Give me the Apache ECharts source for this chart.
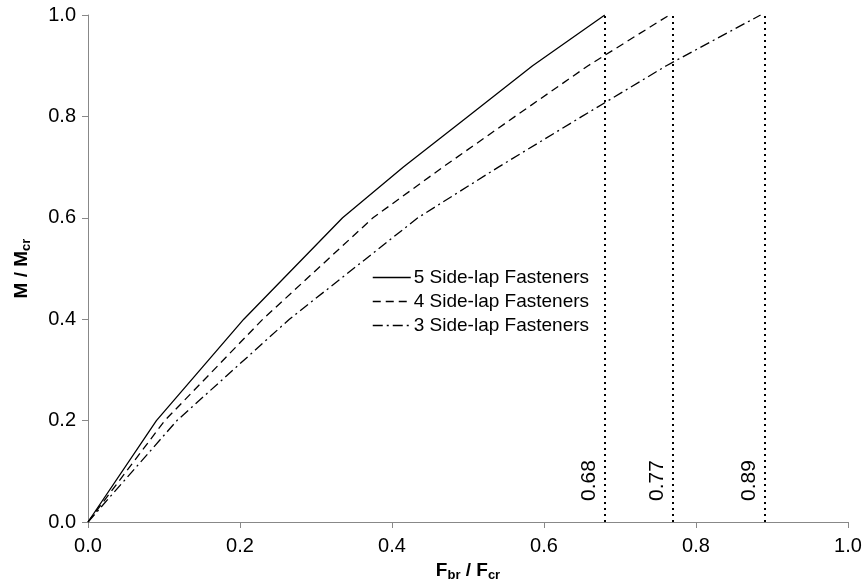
<!DOCTYPE html>
<html><head><meta charset="utf-8">
<script src="https://cdn.jsdelivr.net/npm/echarts@6/dist/echarts.min.js"></script>
<style>html,body{margin:0;padding:0;background:#fff}#c{width:864px;height:582px}</style>
</head><body><div id="c"></div>
<script>
var seriesNames = ['5 Side-lap Fasteners', '4 Side-lap Fasteners', '3 Side-lap Fasteners'];
var five = [[0,0],[0.09,0.2],[0.205,0.4],[0.335,0.6],[0.415,0.7],[0.5,0.8],[0.585,0.9],[0.68,1.0]];
var four = [[0,0],[0.101,0.2],[0.23,0.4],[0.375,0.6],[0.467,0.7],[0.562,0.8],[0.658,0.9],[0.765,1.0]];
var three = [[0,0],[0.117,0.2],[0.265,0.4],[0.434,0.6],[0.54,0.7],[0.65,0.8],[0.761,0.9],[0.885,1.0]];
var limits = [0.68, 0.765, 0.89];
var limitLabels = ['0.68', '0.77', '0.89'];

var font = 'Liberation Sans, Arial, sans-serif';
var chart = echarts.init(document.getElementById('c'));
function mk(name, data, type) {
  return {name: name, type: 'line', data: data, symbol: 'none', smooth: false,
    lineStyle: {color: '#000', width: 1.3, type: type}, itemStyle: {color: '#000'}, z: 3};
}
var s = [mk(seriesNames[0], five, 'solid'), mk(seriesNames[1], four, [8, 5]), mk(seriesNames[2], three, [10, 4, 2, 4])];
s.push({type: 'line', data: [], silent: true,
  markLine: {symbol: 'none', silent: true,
    lineStyle: {color: '#000', width: 2, type: [2, 4]},
    label: {show: true, position: 'insideStartTop', fontFamily: font, fontSize: 21, color: '#000', distance: 5,
      padding: [0, 0, 0, 16],
      formatter: function (p) { return limitLabels[p.dataIndex]; }},
    data: limits.map(function (v) { return {xAxis: v}; })}});
chart.setOption({
  animation: false,
  backgroundColor: '#fff',
  grid: {left: 88, right: 16, top: 15, bottom: 60, containLabel: false, outerBoundsMode: 'none'},
  legend: {left: 367, top: 263, orient: 'vertical', itemWidth: 38, itemHeight: 12, itemGap: 5,
    data: seriesNames.map(function (n) { return {name: n}; }),
    itemStyle: {opacity: 0},
    lineStyle: {width: 1.5},
    textStyle: {fontFamily: font, fontSize: 19, color: '#000', padding: [0, 0, 0, -2]}},
  xAxis: {type: 'value', min: 0, max: 1, interval: 0.2,
    name: '{b|F}{s|br}{b| / F}{s|cr}', nameLocation: 'middle', nameGap: 36,
    nameTextStyle: {rich: {b: {fontFamily: font, fontWeight: 'bold', fontSize: 19, color: '#000'},
      s: {fontFamily: font, fontWeight: 'bold', fontSize: 13, color: '#000', padding: [10, 0, 0, 0]}}},
    axisLine: {lineStyle: {color: '#888'}}, axisTick: {lineStyle: {color: '#888'}, length: 6},
    splitLine: {show: false},
    axisLabel: {fontFamily: font, fontSize: 20, color: '#000', margin: 14, formatter: function (v) { return v.toFixed(1); }}},
  yAxis: {type: 'value', min: 0, max: 1, interval: 0.2,
    name: '{b|M / M}{s|cr}', nameLocation: 'middle', nameGap: 55, nameRotate: 90,
    nameTextStyle: {rich: {b: {fontFamily: font, fontWeight: 'bold', fontSize: 19, color: '#000'},
      s: {fontFamily: font, fontWeight: 'bold', fontSize: 13, color: '#000', padding: [10, 0, 0, 0]}}},
    axisLine: {show: true, lineStyle: {color: '#888'}}, axisTick: {show: true, lineStyle: {color: '#888'}, length: 6},
    splitLine: {show: false},
    axisLabel: {fontFamily: font, fontSize: 20, color: '#000', margin: 12, formatter: function (v) { return v.toFixed(1); }}},
  series: s
});
</script></body></html>
